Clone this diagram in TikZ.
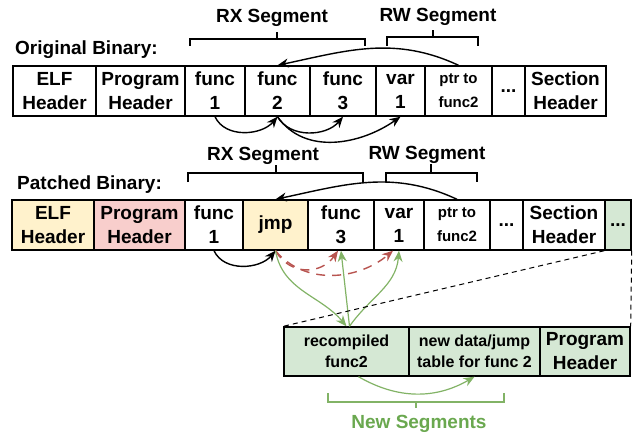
\documentclass[tikz,border=0pt]{standalone}
\usepackage{fontspec}
\setmainfont{Liberation Sans}
\usetikzlibrary{arrows.meta}
\definecolor{GRN}{HTML}{82B366}
\definecolor{GTX}{HTML}{6AA84F}
\definecolor{RED}{HTML}{B85450}
\definecolor{GFL}{HTML}{D5E8D4}
\definecolor{YFL}{HTML}{FFF2CC}
\definecolor{RFL}{HTML}{F8CECC}
\newcommand\bigf{\fontsize{19}{24}\selectfont}
\newcommand\midf{\fontsize{16}{21}\selectfont}
\newcommand\smf{\fontsize{15}{20}\selectfont}
\tikzset{
    BX/.style ={draw,line width=1.4pt,inner sep=0pt,minimum height=50pt,align=center,font=\bfseries\bigf},
    BM/.style ={draw,line width=1.4pt,inner sep=0pt,minimum height=49pt,align=center,fill=GFL},
    LB/.style ={font=\bfseries\bigf,inner sep=0pt},
    BR/.style ={line width=1.2pt},
    AR/.style ={line width=1.4pt,-{Stealth[length=11pt,width=9pt]}},
    GA/.style ={GRN,line width=1.2pt,-{Stealth[length=11pt,width=9pt]}},
    RA/.style ={RED,line width=1.4pt,dash pattern=on 9pt off 7pt,-{Stealth[length=11pt,width=9pt]}}
}
\begin{document}
\begin{tikzpicture}[x=1pt,y=1pt]
    \useasboundingbox (0,0) rectangle (636,-436);
    \foreach \l/\r/\n/\t in {13/96/elfA/{ELF\\Header},96/185/phA/{Program\\Header},185/245/fA1/{func\\1},
                            245/310/fA2/{func\\2},310/376/fA3/{func\\3},376/425/varA/{var\\1},
                            425/492/ptrA/{\smf ptr to\\\smf func2},492/525/dotA/{...},525/606/shA/{Section\\Header}}{
        \node[BX,minimum width={(\r-\l)*1pt}] (\n) at ({(\l+\r)/2},-91) {\t};}
    \foreach \l/\r/\n/\f/\t in {12/94/elfB/YFL/{ELF\\Header},94/185/phB/RFL/{Program\\Header},185/243/fB1/white/{func\\1},
                            243/308/jmpB/YFL/{jmp},308/374/fB3/white/{func\\3},374/424/varB/white/{var\\1},
                            424/490/ptrB/white/{\smf ptr to\\\smf func2},490/523/dotB/white/{...},
                            523/605/shB/white/{Section\\Header},605/631/newB/GFL/{...}}{
        \node[BX,fill=\f,minimum width={(\r-\l)*1pt}] (\n) at ({(\l+\r)/2},-225) {\t};}
    \node[BM,minimum width=125pt,font=\bfseries\midf] (rcC) at (346.5,-351.5) {recompiled\\func2};
    \node[BM,minimum width=131pt,font=\bfseries\midf] (ndC) at (474.5,-351.5) {new data/jump\\table for func 2};
    \node[BM,minimum width=90pt,font=\bfseries\bigf] (phC) at (585,-351.5) {Program\\Header};

    \node[LB,anchor=base west] (obin) at (15,-55) {Original Binary:};
    \node[LB,anchor=base] (rxA) at (272,-23) {RX Segment};
    \node[LB,anchor=base] (rwA) at (438,-22) {RW Segment};
    \node[LB,anchor=base west] (pbin) at (17,-189) {Patched Binary:};
    \node[LB,anchor=base] (rxB) at (263,-160) {RX Segment};
    \node[LB,anchor=base] (rwB) at (427,-159) {RW Segment};
    \node[LB,anchor=base,text=GTX] (nseg) at (419,-428) {New Segments};

    \draw[BR] (190,-46) -- (190,-39) -- (365,-39) -- (365,-46) (277,-39) -- (277,-32);
    \draw[BR] (387,-46) -- (387,-37) -- (478,-37) -- (478,-46) (433,-37) -- (433,-30);
    \draw[BR] (188,-182) -- (188,-173) -- (363,-173) -- (363,-182) (276,-173) -- (276,-165);
    \draw[BR] (386,-182) -- (386,-173) -- (477,-173) -- (477,-182) (431,-173) -- (431,-164);
    \draw[BR,GRN] (328,-393) -- (328,-402) -- (504,-402) -- (504,-393) (416,-402) -- (416,-408);

    \draw[AR] (ptrA.north) to[out=155,in=12] (fA2.north);
    \draw[AR] (fA1.south) to[out=-65,in=-130] (fA2.south);
    \draw[AR] (fA2.south) to[out=-60,in=-130] (fA3.south);
    \draw[AR] (fA2.south) to[out=-55,in=-145] (varA.south);

    \draw[AR] (ptrB.north) to[out=155,in=12] (jmpB.north);
    \draw[AR] (fB1.south) to[out=-65,in=-130] (jmpB.south);
    \draw[RA] (jmpB.south) to[out=-60,in=-125,looseness=1.2] ([xshift=-3pt]fB3.south);
    \draw[RA] (jmpB.south) to[out=-50,in=-140] ([xshift=-6pt]varB.south);
    \draw[GA] (jmpB.south) to[out=-80,in=130] (rcC.north);
    \draw[GA] ([xshift=3pt]rcC.north) -- (fB3.south);
    \draw[GA] ([xshift=3pt]rcC.north) to[out=55,in=-95] (varB.south);
    \draw[GA] ([xshift=12pt]rcC.south) to[out=-30,in=-150] (ndC.south);

    \draw[line width=1pt,dash pattern=on 5pt off 4pt] (newB.south west) -- (rcC.north west)
        (newB.south east) -- (phC.north east);
\end{tikzpicture}
\end{document}
